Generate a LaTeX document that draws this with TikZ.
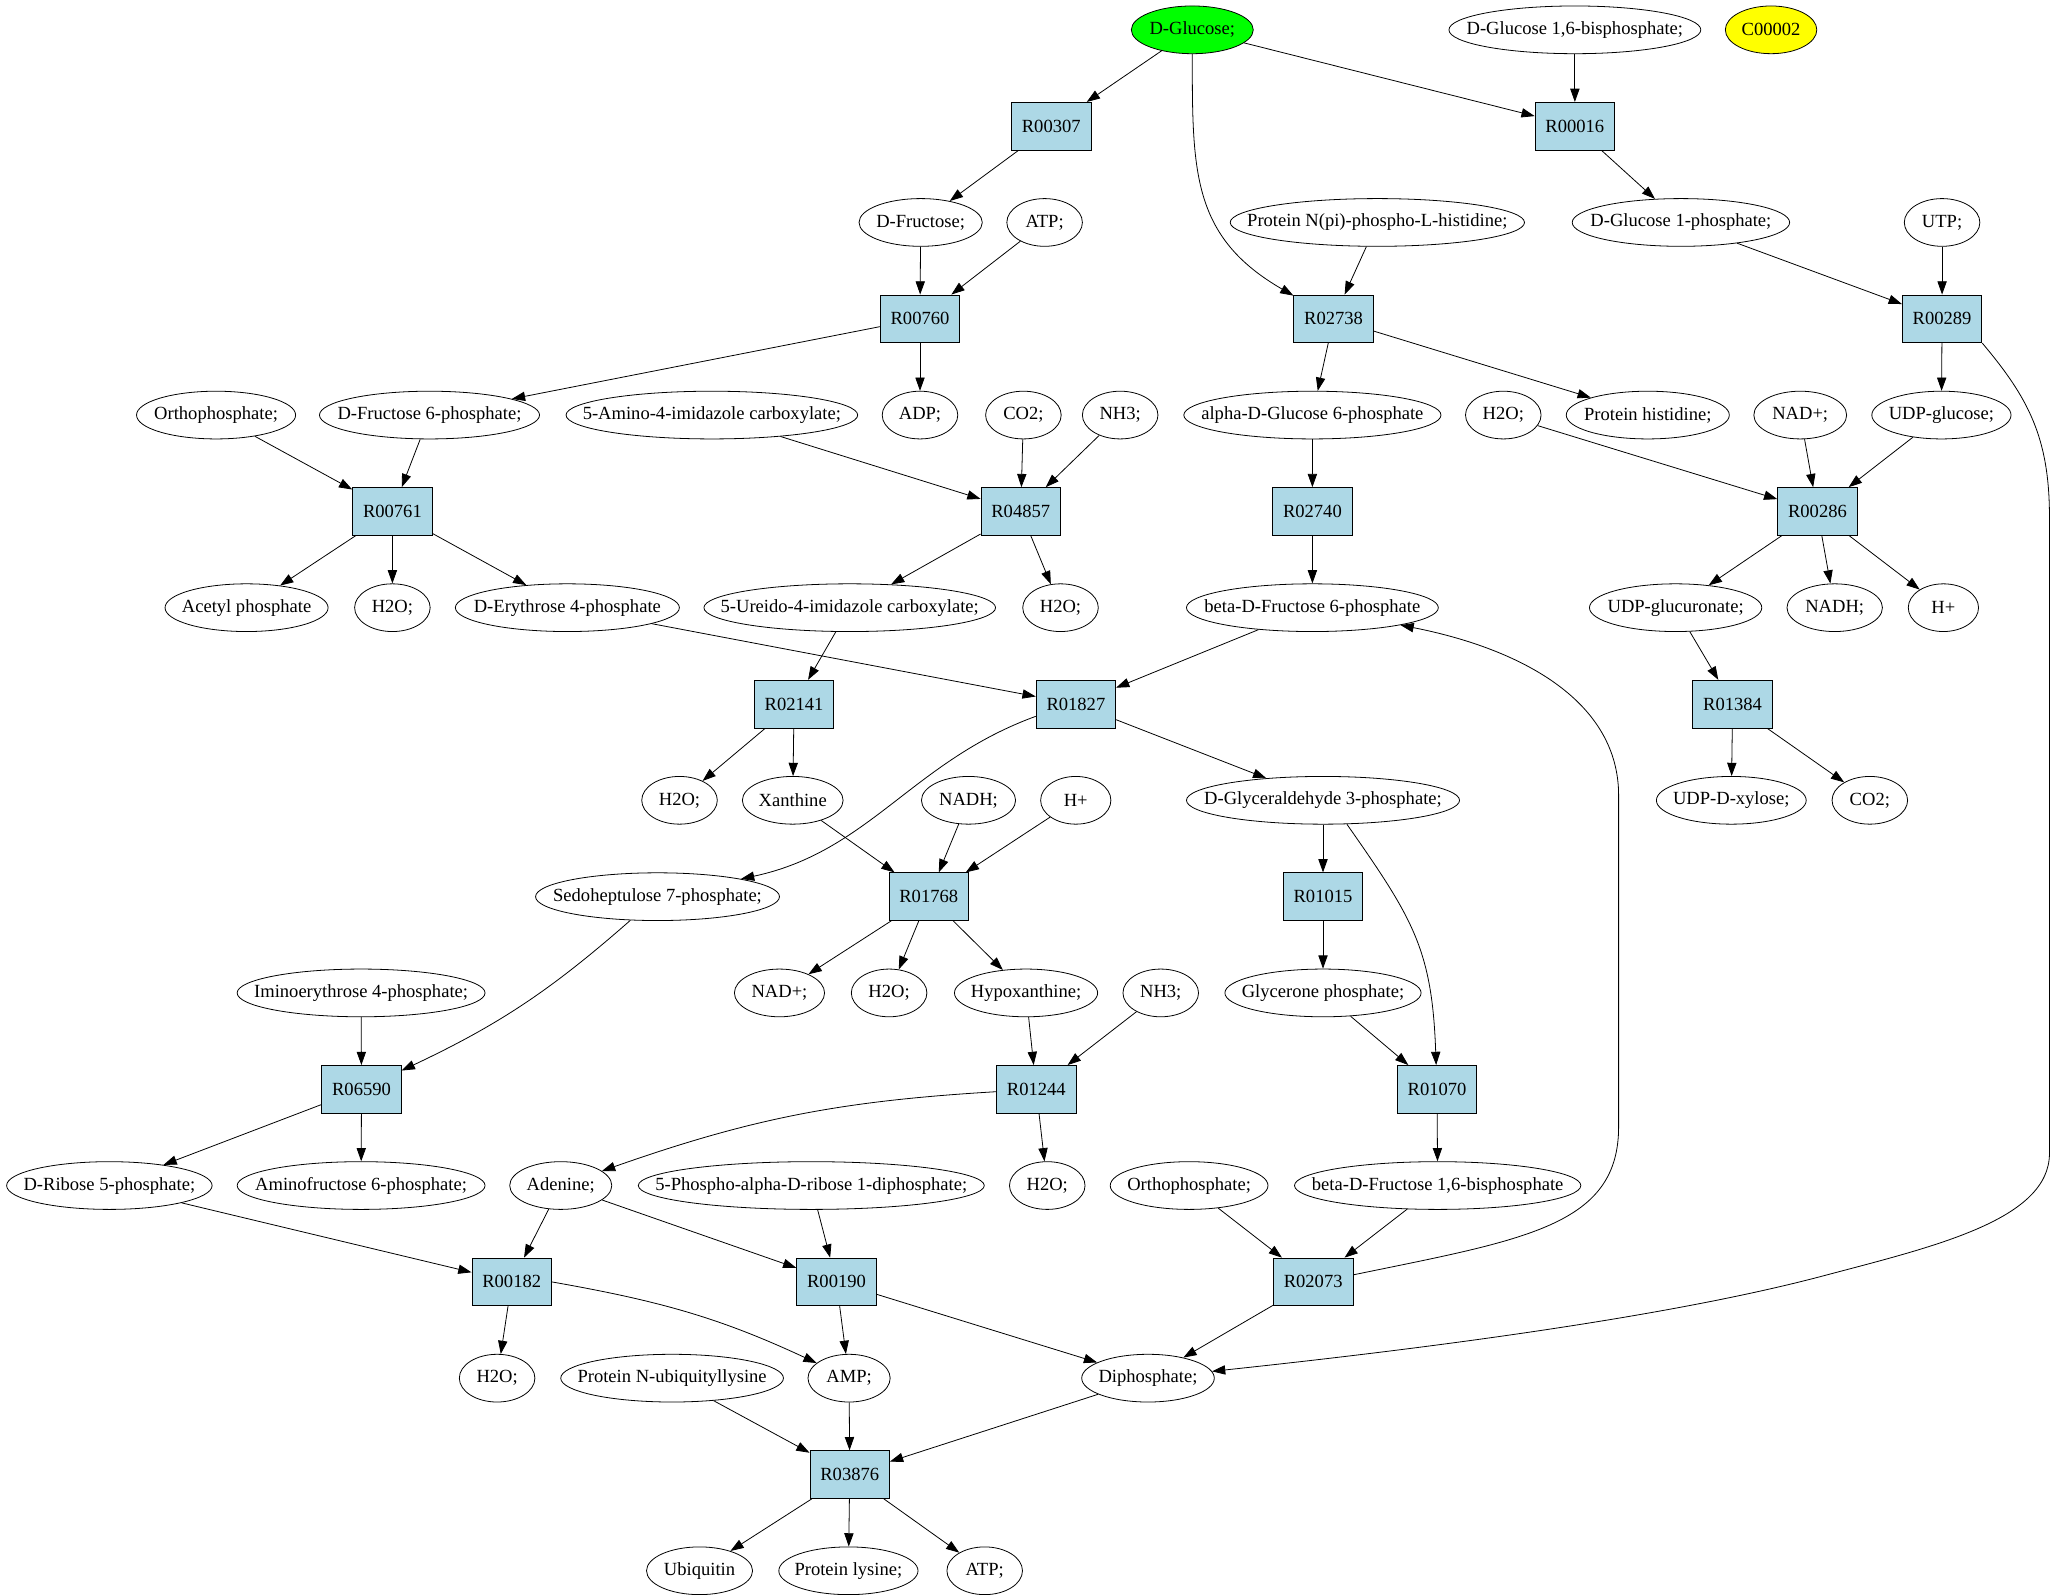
\documentclass[tikz,border=0pt]{standalone}
\usepackage{fontspec}
\setmainfont{Liberation Serif}
\usetikzlibrary{arrows.meta,shapes.geometric}
\definecolor{rxnblue}{HTML}{ADD8E6}
\definecolor{srcgreen}{HTML}{00FF00}
\definecolor{cpdyellow}{HTML}{FFFF00}
\tikzset{
  cpd/.style={ellipse, draw, line width=0.6pt, minimum height=36pt, minimum width=57pt,
    inner sep=0pt, execute at begin node={\hbox to 0pt\bgroup\hss},
    execute at end node={\hss\egroup}},
  rxn/.style={rectangle, draw, line width=0.6pt, fill=rxnblue,
    minimum width=60pt, minimum height=36pt, inner sep=0pt},
}
\begin{document}
\begin{tikzpicture}[x=1pt, y=1pt, font=\fontsize{14pt}{16pt}\selectfont]
      \useasboundingbox (0,0) rectangle (1560,-1203);
      \draw
        (899.4,-22.5) node[cpd, fill=srcgreen, minimum width=92pt] (glc){D-Glucose;}
        (1188,-22.5) node[cpd, minimum width=190pt] (glc16bp){D-Glucose 1,6-bisphosphate;}
        (1336,-22.5) node[cpd, fill=cpdyellow, minimum width=69pt] (c00002){C00002}
        (694.5,-167.8) node[cpd, minimum width=93pt] (fru){D-Fructose;}
        (788,-167.8) node[cpd] (atp1){ATP;}
        (1039,-167.8) node[cpd, minimum width=222pt] (protnphis){Protein N(pi)-phospho-L-histidine;}
        (1268,-167.8) node[cpd, minimum width=164pt] (glc1p){D-Glucose 1-phosphate;}
        (1465,-167.8) node[cpd] (utp){UTP;}
        (163,-313.1) node[cpd, minimum width=120pt] (pi1){Orthophosphate;}
        (324,-313.1) node[cpd, minimum width=166pt] (fru6p){D-Fructose 6-phosphate;}
        (537,-313.1) node[cpd, minimum width=220pt] (aicarb){5-Amino-4-imidazole carboxylate;}
        (694,-313.1) node[cpd] (adp){ADP;}
        (772,-313.1) node[cpd] (co2a){CO2;}
        (845,-313.1) node[cpd] (nh3a){NH3;}
        (990,-313.1) node[cpd, minimum width=194pt] (aglc6p){alpha-D-Glucose 6-phosphate}
        (1134,-313.1) node[cpd] (h2oa){H2O;}
        (1243,-313.1) node[cpd, minimum width=123pt] (prothis){Protein histidine;}
        (1358,-313.1) node[cpd, minimum width=70pt] (nada){NAD+;}
        (1464.5,-313.1) node[cpd, minimum width=105pt] (udpglc){UDP-glucose;}
        (186,-458.4) node[cpd, minimum width=123pt] (acp){Acetyl phosphate}
        (296,-458.4) node[cpd] (h2ob){H2O;}
        (428,-458.4) node[cpd, minimum width=169pt] (ery4p){D-Erythrose 4-phosphate}
        (641,-458.4) node[cpd, minimum width=220pt] (uaicarb){5-Ureido-4-imidazole carboxylate;}
        (800,-458.4) node[cpd] (h2oc){H2O;}
        (990,-458.4) node[cpd, minimum width=190pt] (bfru6p){beta-D-Fructose 6-phosphate}
        (1264,-458.4) node[cpd, minimum width=130pt] (udpglcur){UDP-glucuronate;}
        (1384,-458.4) node[cpd, minimum width=72pt] (nadha){NADH;}
        (1466,-458.4) node[cpd, minimum width=53pt] (hpa){H+}
        (512.6,-603.7) node[cpd] (h2od){H2O;}
        (598,-603.7) node[cpd, minimum width=76pt] (xan){Xanthine}
        (730.6,-603.7) node[cpd, minimum width=71pt] (nadhb){NADH;}
        (811.5,-603.7) node[cpd, minimum width=53pt] (hpb){H+}
        (998,-603.7) node[cpd, minimum width=206pt] (ga3p){D-Glyceraldehyde 3-phosphate;}
        (1306,-603.7) node[cpd, minimum width=113pt] (udpxyl){UDP-D-xylose;}
        (1410.5,-603.7) node[cpd] (co2b){CO2;}
        (496,-676.4) node[cpd, minimum width=184pt] (sedo7p){Sedoheptulose 7-phosphate;}
        (272.4,-749) node[cpd, minimum width=187pt] (imery4p){Iminoerythrose 4-phosphate;}
        (588,-749) node[cpd, minimum width=68pt] (nadb){NAD+;}
        (670.7,-749) node[cpd] (h2oe){H2O;}
        (774,-749) node[cpd, minimum width=108pt] (hyx){Hypoxanthine;}
        (875.6,-749) node[cpd] (nh3b){NH3;}
        (998,-749) node[cpd, minimum width=148pt] (dhap){Glycerone phosphate;}
        (82.5,-894.3) node[cpd, minimum width=155pt] (rib5p){D-Ribose 5-phosphate;}
        (272.4,-894.3) node[cpd, minimum width=187pt] (amfru6p){Aminofructose 6-phosphate;}
        (423,-894.3) node[cpd, minimum width=77pt] (ade){Adenine;}
        (612,-894.3) node[cpd, minimum width=261pt] (prpp){5-Phospho-alpha-D-ribose 1-diphosphate;}
        (790,-894.3) node[cpd] (h2of){H2O;}
        (897,-894.3) node[cpd, minimum width=119pt] (pi2){Orthophosphate;}
        (1084.5,-894.3) node[cpd, minimum width=216pt] (fru16bp){beta-D-Fructose 1,6-bisphosphate}
        (375,-1039.6) node[cpd] (h2og){H2O;}
        (507,-1039.6) node[cpd, minimum width=168pt] (protubq){Protein N-ubiquityllysine}
        (640.5,-1039.6) node[cpd, minimum width=62pt] (amp){AMP;}
        (866,-1039.6) node[cpd, minimum width=100pt] (ppi){Diphosphate;}
        (527.7,-1184.9) node[cpd, minimum width=80pt] (ubq){Ubiquitin}
        (640,-1184.9) node[cpd, minimum width=105pt] (protlys){Protein lysine;}
        (742.8,-1184.9) node[cpd] (atp2){ATP;};
      \draw
        (793,-95.2) node[rxn] (r00307){R00307}
        (1188,-95.2) node[rxn] (r00016){R00016}
        (694,-240.5) node[rxn] (r00760){R00760}
        (1006,-240.5) node[rxn] (r02738){R02738}
        (1465,-240.5) node[rxn] (r00289){R00289}
        (296,-385.8) node[rxn] (r00761){R00761}
        (770,-385.8) node[rxn] (r04857){R04857}
        (990,-385.8) node[rxn] (r02740){R02740}
        (1371,-385.8) node[rxn] (r00286){R00286}
        (599,-531.1) node[rxn] (r02141){R02141}
        (811.6,-531.1) node[rxn] (r01827){R01827}
        (1307,-531.1) node[rxn] (r01384){R01384}
        (700.6,-676.4) node[rxn] (r01768){R01768}
        (998,-676.4) node[rxn] (r01015){R01015}
        (272.7,-821.7) node[rxn] (r06590){R06590}
        (781.7,-821.7) node[rxn] (r01244){R01244}
        (1084,-821.7) node[rxn] (r01070){R01070}
        (386,-967) node[rxn] (r00182){R00182}
        (631,-967) node[rxn] (r00190){R00190}
        (990.6,-967) node[rxn] (r02073){R02073}
        (641,-1112.3) node[rxn] (r03876){R03876};
      \begin{scope}[-{Triangle[length=10pt,width=7pt]}, line width=0.6pt]
        \draw (glc) to (r00307);
        \draw (glc) to (r00016);
        \draw (glc) to[out=-90,in=150,looseness=1.15] (r02738);
        \draw (glc16bp) to (r00016);
        \draw (r00307) to (fru);
        \draw (r00016) to (glc1p);
        \draw (fru) to (r00760);
        \draw (atp1) to (r00760);
        \draw (protnphis) to (r02738);
        \draw (glc1p) to (r00289);
        \draw (utp) to (r00289);
        \draw (r00760) to (fru6p);
        \draw (r00760) to (adp);
        \draw (r02738) to (aglc6p);
        \draw (r02738) to (prothis);
        \draw (r00289) to (udpglc);
        \draw (r00289.south east) .. controls (1530,-300) and (1546,-330) .. (1546,-390)
          -- (1546,-870) .. controls (1546,-920) and (1460,-940) .. (1377,-962)
          .. controls (1250,-996) and (1050,-1020) .. (ppi);
        \draw (pi1) to (r00761);
        \draw (fru6p) to (r00761);
        \draw (aicarb) to (r04857);
        \draw (co2a) to (r04857);
        \draw (nh3a) to (r04857);
        \draw (aglc6p) to (r02740);
        \draw (h2oa) to (r00286);
        \draw (nada) to (r00286);
        \draw (udpglc) to (r00286);
        \draw (r00761) to (acp);
        \draw (r00761) to (h2ob);
        \draw (r00761) to (ery4p);
        \draw (r04857) to (uaicarb);
        \draw (r04857) to (h2oc);
        \draw (r02740) to (bfru6p);
        \draw (r00286) to (udpglcur);
        \draw (r00286) to (nadha);
        \draw (r00286) to (hpa);
        \draw (ery4p) to (r01827);
        \draw (uaicarb) to (r02141);
        \draw (bfru6p) to (r01827);
        \draw (udpglcur) to (r01384);
        \draw (r02141) to (h2od);
        \draw (r02141) to (xan);
        \draw (r01827.197) to[out=200,in=12] (sedo7p);
        \draw (r01827) to (ga3p);
        \draw (r01384) to (udpxyl);
        \draw (r01384) to (co2b);
        \draw (xan) to (r01768);
        \draw (nadhb) to (r01768);
        \draw (hpb) to (r01768);
        \draw (ga3p) to (r01015);
        \draw (ga3p.-45) to[out=-55,in=92,looseness=1.15] (r01070);
        \draw (sedo7p) to[bend left=8] (r06590);
        \draw (r01768) to (nadb);
        \draw (r01768) to (h2oe);
        \draw (r01768) to (hyx);
        \draw (r01015) to (dhap);
        \draw (imery4p) to (r06590);
        \draw (hyx) to (r01244);
        \draw (nh3b) to (r01244);
        \draw (dhap) to (r01070);
        \draw (r06590) to (rib5p);
        \draw (r06590) to (amfru6p);
        \draw (r01244) to[bend right=8] (ade);
        \draw (r01244) to (h2of);
        \draw (r01070) to (fru16bp);
        \draw (rib5p) to (r00182);
        \draw (ade) to (r00182);
        \draw (ade) to (r00190);
        \draw (prpp) to (r00190);
        \draw (pi2) to (r02073);
        \draw (fru16bp) to (r02073);
        \draw (r02073.10) .. controls (1150,-935) and (1221,-925) .. (1221,-850)
          -- (1221,-600) .. controls (1221,-530) and (1150,-490) .. (bfru6p);
        \draw (r00182) to (h2og);
        \draw (r00182.east) to[out=-10,in=155] (amp);
        \draw (r00190) to (amp);
        \draw (r00190) to (ppi);
        \draw (r02073) to (ppi);
        \draw (protubq) to (r03876);
        \draw (amp) to (r03876);
        \draw (ppi) to (r03876);
        \draw (r03876) to (ubq);
        \draw (r03876) to (protlys);
        \draw (r03876) to (atp2);
      \end{scope}
    \end{tikzpicture}
\end{document}
